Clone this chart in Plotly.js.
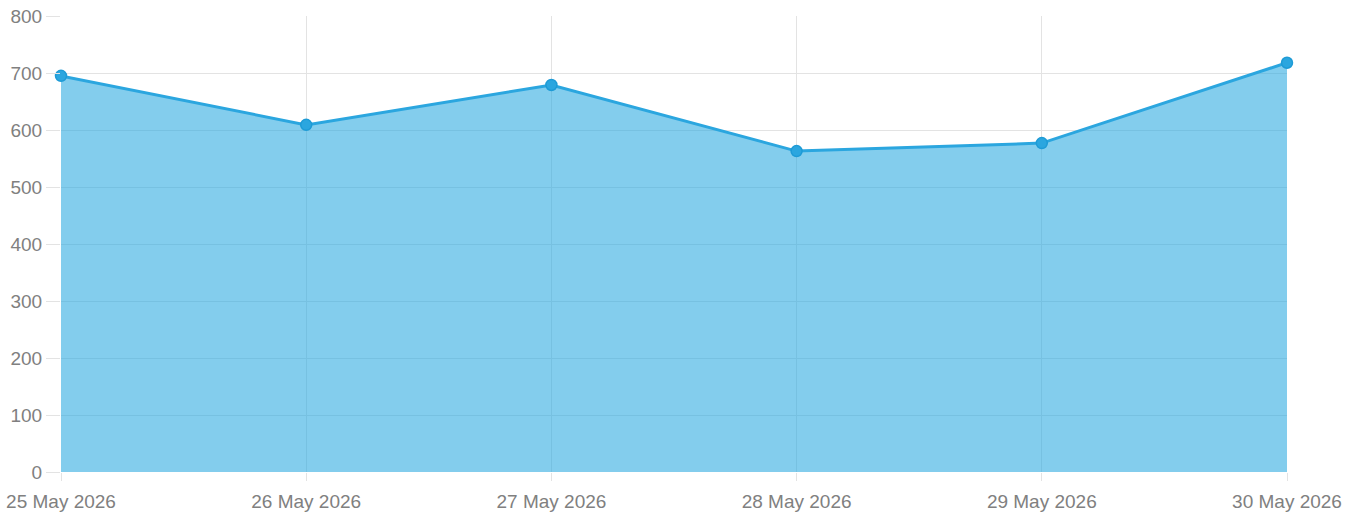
<!DOCTYPE html>
<html><head><meta charset="utf-8">
<script src="https://cdn.plot.ly/plotly-3.0.1.min.js"></script>
<style>html,body{margin:0;padding:0;background:#fff;}#chart{width:1362px;height:517px;}</style>
</head><body><div id="chart"></div>
<script>
const categories = ["25 May 2026","26 May 2026","27 May 2026","28 May 2026","29 May 2026","30 May 2026"];
const values = [695, 609, 679, 563, 577, 718];
const yTicks = [0,100,200,300,400,500,600,700,800];

Plotly.newPlot('chart', [{
  x: categories, y: values, type: 'scatter', mode: 'lines+markers',
  fill: 'tozeroy', fillcolor: 'rgba(41,168,224,0.58)',
  line: {color: '#2ba6df', width: 3},
  marker: {size: 11, color: '#2ba6df', line: {color: '#1e9bd6', width: 1.5}},
  cliponaxis: false, hoverinfo: 'x+y'
}], {
  width: 1362, height: 517,
  margin: {l: 61, r: 75, t: 16, b: 45},
  paper_bgcolor: '#fff', plot_bgcolor: '#fff',
  showlegend: false,
  font: {family: '"Liberation Sans", Arial, sans-serif', size: 19, color: '#808080'},
  xaxis: {type: 'category', range: [0, 5], showgrid: true, gridcolor: '#e3e3e3', gridwidth: 1,
    zeroline: false, ticks: 'outside', ticklen: 8, tickcolor: '#e3e3e3', ticklabelstandoff: 4,
    tickfont: {size: 19, color: '#808080'}},
  yaxis: {range: [0, 800], tickvals: yTicks, showgrid: true, gridcolor: '#e3e3e3', gridwidth: 1,
    zeroline: false, ticks: 'outside', ticklen: 14, tickcolor: '#e3e3e3',
    tickfont: {size: 19, color: '#808080'}}
}, {displayModeBar: false});
</script></body></html>
